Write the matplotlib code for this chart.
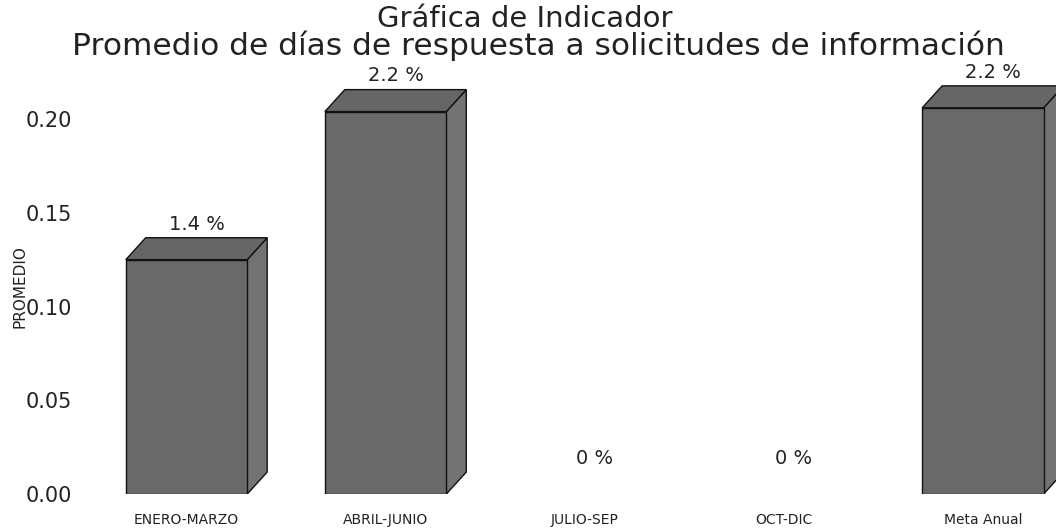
import matplotlib
matplotlib.use("Agg")
import matplotlib.pyplot as plt
from matplotlib.patches import Polygon

categories = ["ENERO-MARZO", "ABRIL-JUNIO", "JULIO-SEP", "OCT-DIC", "Meta Anual"]
values = [0.125, 0.204, 0.0, 0.0, 0.206]
value_labels = ["1.4 %", "2.2 %", "0 %", "0 %", "2.2 %"]
yticks = [0.00, 0.05, 0.10, 0.15, 0.20]
ytick_labels = ["0.00", "0.05", "0.10", "0.15", "0.20"]
title_line1 = "Gráfica de Indicador"
title_line2 = "Promedio de días de respuesta a solicitudes de información"
ylabel = "PROMEDIO"

W, H = 1056, 531
fig = plt.figure(figsize=(W / 100, H / 100), dpi=100)
ax = fig.add_axes([87 / W, 37 / H, 1 - 87 / W, 434 / H])

x = list(range(len(categories)))
bar_w = 0.61
dx = 0.10
dy = 0.0117
front_c = "#696969"
side_c = "#737373"
top_c = "#666666"

ax.set_xlim(-0.5, 4.367)
ax.set_ylim(0, 0.2315)

for xi, v in zip(x, values):
    if v <= 0:
        continue
    x0, x1 = xi - bar_w / 2, xi + bar_w / 2
    side = Polygon([(x1, 0), (x1 + dx, dy), (x1 + dx, v + dy), (x1, v)],
                   closed=True, facecolor=side_c, edgecolor="#111111", lw=1.0, zorder=2)
    top = Polygon([(x0, v), (x0 + dx, v + dy), (x1 + dx, v + dy), (x1, v)],
                  closed=True, facecolor=top_c, edgecolor="#111111", lw=1.0, zorder=2)
    ax.add_patch(side)
    ax.add_patch(top)

bars = ax.bar(x, values, width=bar_w, color=front_c, edgecolor="#111111", linewidth=1.0, zorder=3)
for b, v in zip(bars, values):
    if v <= 0:
        b.set_visible(False)

for xi, v, lab in zip(x, values, value_labels):
    ax.annotate(lab, (xi + dx / 2, v + dy), xytext=(0, 3), textcoords="offset points",
                ha="center", va="bottom", fontsize=14, color="#222222", zorder=5)

ax.set_xticks(x)
ax.set_xticklabels(categories, fontsize=10, color="#222222")
ax.set_yticks(yticks)
ax.set_yticklabels(ytick_labels, fontsize=15, color="#222222")
ax.tick_params(axis="x", length=0, pad=14)
ax.tick_params(axis="y", length=0, pad=11)
for s in ax.spines.values():
    s.set_visible(False)
ax.set_facecolor("none")

fig.text(20 / W, 1 - 287 / H, ylabel, rotation=90, ha="center", va="center",
         fontsize=11, color="#222222")
fig.text(525 / W, 1 - 19 / H, title_line1, ha="center", va="center", fontsize=21, color="#222222")
fig.text(538 / W, 1 - 46 / H, title_line2, ha="center", va="center", fontsize=22.5, color="#222222")

fig.savefig("out.png", dpi=100)
